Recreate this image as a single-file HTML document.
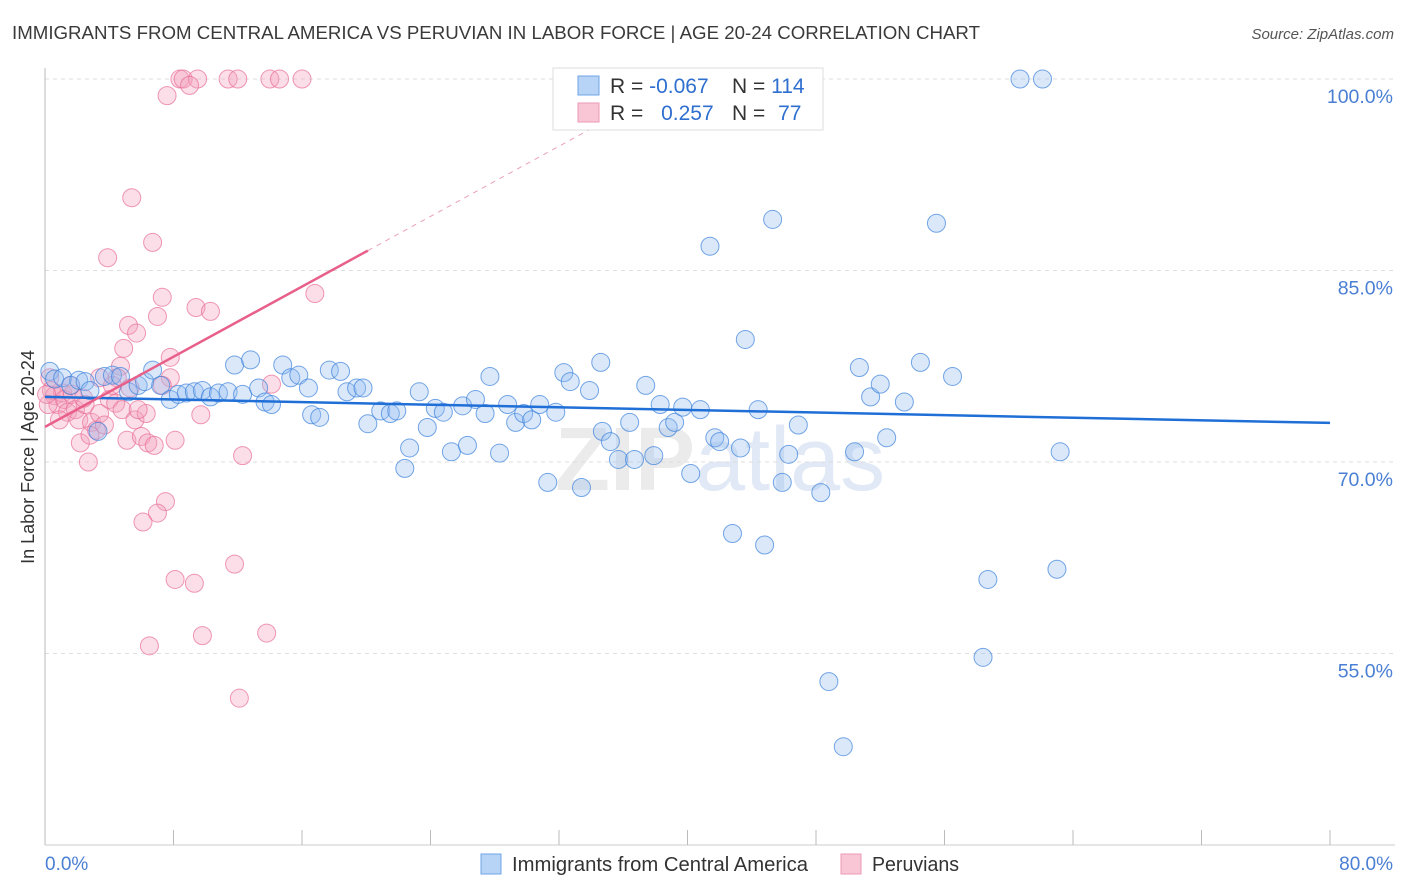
<!DOCTYPE html>
<html><head><meta charset="utf-8"><style>
body{margin:0;background:#fff;font-family:"Liberation Sans",sans-serif;}
svg{display:block}
</style></head><body>
<svg id="chart" width="1406" height="892" xmlns="http://www.w3.org/2000/svg">
<text x="12" y="39" font-size="18" fill="#3a3a3a" textLength="968" lengthAdjust="spacingAndGlyphs">IMMIGRANTS FROM CENTRAL AMERICA VS PERUVIAN IN LABOR FORCE | AGE 20-24 CORRELATION CHART</text>
<text x="1394" y="39" font-size="15" fill="#555" font-style="italic" text-anchor="end">Source: ZipAtlas.com</text>
<text x="555" y="490" font-size="90" fill="#ebebeb" font-weight="bold">ZIP<tspan font-weight="normal" fill="#e0e9f5">atlas</tspan></text>
<g id="grid"></g>
<g id="pts"></g>
<g id="lines"></g>
<text transform="translate(34,457) rotate(-90)" font-size="18" fill="#333" text-anchor="middle">In Labor Force | Age 20-24</text>
<text x="45" y="870" font-size="19" fill="#4a7fd4">0.0%</text>
<text x="1393" y="870" font-size="19" fill="#4a7fd4" text-anchor="end">80.0%</text>
<g>
<rect x="553" y="68" width="270" height="62" fill="#fff" stroke="#ddd"/>
<rect x="578" y="76" width="21" height="19" fill="#b7d3f5" stroke="#6fa4e6"/>
<rect x="578" y="103" width="21" height="19" fill="#f9c6d5" stroke="#ec9ab4"/>
<text x="610" y="93" font-size="21" fill="#333">R = <tspan fill="#2f6fd0">-0.067</tspan></text>
<text x="732" y="93" font-size="21" fill="#333">N = <tspan fill="#2f6fd0">114</tspan></text>
<text x="610" y="120" font-size="21" fill="#333">R = <tspan fill="#2f6fd0" dx="12">0.257</tspan></text>
<text x="732" y="120" font-size="21" fill="#333">N = <tspan fill="#2f6fd0" dx="7">77</tspan></text>
</g>
<g>
<rect x="481" y="854" width="20" height="20" fill="#b7d3f5" stroke="#6fa4e6"/>
<text x="512" y="871" font-size="20" fill="#333" textLength="296" lengthAdjust="spacingAndGlyphs">Immigrants from Central America</text>
<rect x="841" y="854" width="20" height="20" fill="#f9c6d5" stroke="#ec9ab4"/>
<text x="872" y="871" font-size="20" fill="#333" textLength="87" lengthAdjust="spacingAndGlyphs">Peruvians</text>
</g>
</svg>
<script>
const blueX=[0.3,0.6,1.1,1.6,2.1,2.5,2.8,3.3,3.7,4.2,4.7,5.2,5.8,6.2,6.7,7.2,7.8,8.3,8.8,9.3,9.8,10.3,10.8,11.4,11.8,12.3,12.8,13.3,13.7,14.1,14.8,15.3,15.8,16.4,16.6,17.1,17.7,18.4,18.8,19.4,19.8,20.1,20.9,21.5,21.9,22.4,22.7,23.3,23.8,24.3,24.8,25.3,26.0,26.3,26.8,27.4,27.7,28.3,28.8,29.3,29.8,30.3,30.8,31.3,31.8,32.3,32.7,33.4,33.9,34.6,34.7,35.2,35.7,36.4,36.7,37.4,37.9,38.3,38.8,39.2,39.7,40.2,40.8,41.4,41.7,42.0,42.8,43.3,43.6,44.4,44.8,45.3,45.9,46.3,46.9,48.3,48.8,49.7,50.4,50.7,51.4,52.0,52.4,53.5,54.5,55.5,56.5,58.4,58.7,60.7,62.1,63.0,63.2,47.5];
const blueY=[77.1,76.5,76.6,76.0,76.4,76.3,75.6,72.4,76.7,76.8,76.7,75.5,76.0,76.3,77.2,76.0,74.9,75.3,75.4,75.5,75.6,75.1,75.4,75.5,77.6,75.3,78.0,75.8,74.7,74.5,77.6,76.6,76.8,75.8,73.7,73.5,77.2,77.1,75.5,75.8,75.8,73.0,74.0,73.8,74.0,69.5,71.1,75.5,72.7,74.2,73.9,70.8,74.4,71.3,74.9,73.8,76.7,70.7,74.5,73.1,73.8,73.3,74.5,68.4,73.9,77.0,76.3,68.0,75.6,77.8,72.4,71.6,70.2,73.1,70.2,76.0,70.5,74.5,72.7,73.1,74.3,69.1,74.1,86.9,71.9,71.6,64.4,71.1,79.6,74.1,63.5,89.0,68.4,70.6,72.9,67.6,52.8,47.7,70.8,77.4,75.1,76.1,71.9,74.7,77.8,88.7,76.7,54.7,60.8,100,100,61.6,70.8,100];
const pinkX=[8.4,8.6,9.5,11.4,12.0,14.0,14.6,16.0,7.6,9.0,5.4,6.7,3.9,16.8,7.3,9.4,10.3,7.0,5.2,5.7,4.9,7.8,7.8,7.3,4.7,4.5,5.3,4.0,0.3,0.4,0.6,0.8,1.1,1.2,1.4,1.7,1.9,2.1,2.2,2.7,2.5,2.9,3.2,3.4,3.7,4.4,4.8,5.1,5.6,6.0,6.4,6.3,6.8,8.1,9.7,12.3,14.1,7.5,7.0,6.1,8.1,9.3,11.8,9.8,13.8,6.5,12.1,0.2,0.1,3.4,0.9,2.8,4.2,5.8,2.4,1.6];
const pinkY=[100,100,100,100,100,100,100,100,98.7,99.5,90.7,87.2,86.0,83.2,82.9,82.1,81.8,81.4,80.7,80.1,78.9,78.2,76.6,76.0,77.5,76.6,75.8,74.9,76.6,75.6,75.2,74.5,75.4,74.9,73.9,75.3,74.1,73.3,71.5,70.0,74.5,73.1,72.5,73.8,72.9,74.6,74.1,71.7,73.3,72.0,71.5,73.8,71.3,71.7,73.7,70.5,76.1,66.9,66.0,65.3,60.8,60.5,62.0,56.4,56.6,55.6,51.5,74.5,75.3,76.6,73.3,72.1,76.0,74.1,75.0,76.0];
const blueTrend=[75.1,73.06];
const pinkTrend=[72.75,0.687];
const yTicks=[100,85,70,55];
const yTickLabels=["100.0%","85.0%","70.0%","55.0%"];
const xTicks=[0,8,16,24,32,40,48,56,64,72,80];

const NS="http://www.w3.org/2000/svg";
const X0=45,X1=1330,YT=79,PPY=191.5/15;
const sx=v=>X0+(v/80)*(X1-X0);
const sy=v=>YT+(100-v)*PPY;
function mk(tag,attrs,parent){const e=document.createElementNS(NS,tag);for(const k in attrs)e.setAttribute(k,attrs[k]);parent.appendChild(e);return e;}
const grid=document.getElementById('grid');
yTicks.forEach((t,i)=>{
  const g=mk('line',{x1:X0,x2:1395,y1:sy(t),y2:sy(t),stroke:'#ddd','stroke-dasharray':'4,4'},grid);
  
  
  const tx=mk('text',{x:1393,y:sy(t)+24,'font-size':19.5,fill:'#4a7fd4','text-anchor':'end'},grid);
  tx.textContent=yTickLabels[i];
  
  
});
const ax=mk('line',{x1:X0,x2:X0,y1:68,y2:845,stroke:'#bbb'},grid);


const bx=mk('line',{x1:X0,x2:1395,y1:845,y2:845,stroke:'#ccc'},grid);


xTicks.forEach(t=>{
  const l=mk('line',{x1:sx(t),x2:sx(t),y1:830,y2:845,stroke:'#bbb'},grid);
  
  
});
const pts=document.getElementById('pts');
pinkX.forEach((x,i)=>{
  const c=mk('circle',{cx:sx(x),cy:sy(pinkY[i]),r:9,fill:'rgba(244,160,190,0.35)',stroke:'rgba(232,110,150,0.7)','stroke-width':1},pts);
  
  
});
blueX.forEach((x,i)=>{
  const c=mk('circle',{cx:sx(x),cy:sy(blueY[i]),r:9,fill:'rgba(150,190,240,0.35)',stroke:'rgba(60,130,220,0.7)','stroke-width':1},pts);
  
  
});
const lines=document.getElementById('lines');
const bl=mk('line',{x1:sx(0),y1:sy(blueTrend[0]),x2:sx(80),y2:sy(blueTrend[1]),stroke:'#1f6fd6','stroke-width':2.5},lines);


const pf=x=>pinkTrend[0]+pinkTrend[1]*x;
const pl=mk('line',{x1:sx(0),y1:sy(pf(0)),x2:sx(20.1),y2:sy(pf(20.1)),stroke:'#e8608a','stroke-width':2.5},lines);


const pd=mk('line',{x1:sx(20.1),y1:sy(pf(20.1)),x2:sx(34.6),y2:sy(pf(34.6)),stroke:'#eaa0b8','stroke-width':1,'stroke-dasharray':'5,5'},lines);


</script>
</body></html>
